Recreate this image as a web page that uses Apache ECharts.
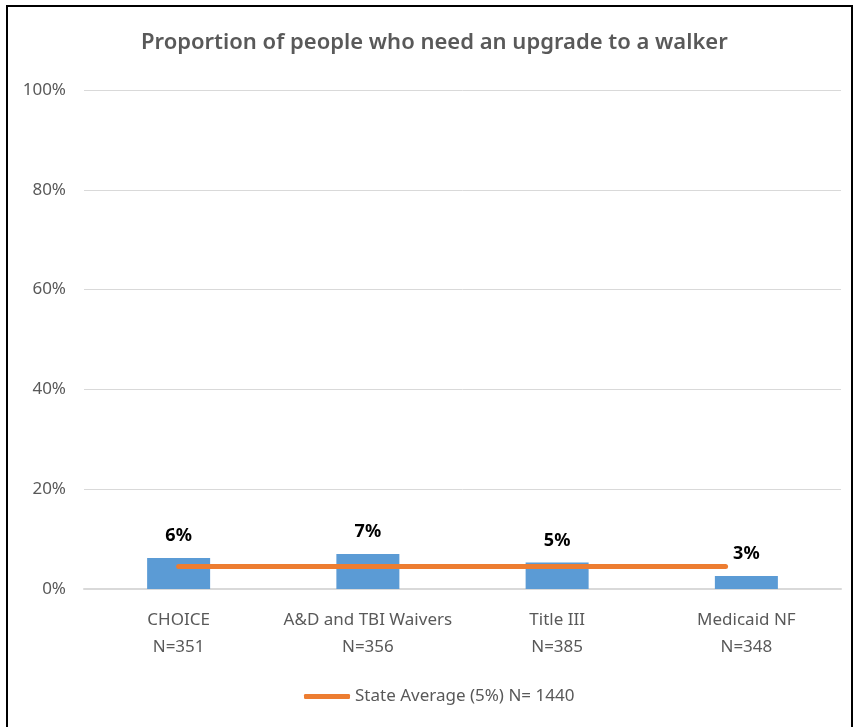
<!DOCTYPE html>
<html>
<head>
<meta charset="utf-8">
<script src="https://cdn.jsdelivr.net/npm/echarts@6/dist/echarts.min.js"></script>
<style>
	html, body { margin: 0; padding: 0; background: #fff; }
	#main { width: 854px; height: 727px; }
</style>
</head>
<body>
<div id="main"></div>
<script>
// 各项目需要升级助行器的比例
var categories = ['CHOICE\nN=351', 'A&D and TBI Waivers\nN=356', 'Title III\nN=385', 'Medicaid NF\nN=348'];
var barValues = [6.2, 7.0, 5.3, 2.6];
var avgName = 'State Average (5%) N= 1440';
var avgValue = 4.5;
var avgFrom = 0.5;   // 线段起点(类目单位)
var avgTo = 3.39;    // 线段终点(类目单位)
var yTicks = [0, 20, 40, 60, 80, 100];

var font = 'Noto Sans';
var chart = echarts.init(document.getElementById('main'));
var option = {
	backgroundColor: '#fff',
	animation: false,
	title: {
		text: 'Proportion of people who need an upgrade to a walker',
		left: 136,
		top: 27,
		textStyle: {
			color: '#595959',
			fontSize: 22,
			fontWeight: 600,
			fontFamily: font
		}
	},
	graphic: [{
		type: 'rect',
		shape: { x: 7, y: 6, width: 845, height: 740 },
		style: { fill: 'none', stroke: '#000', lineWidth: 2 },
		silent: true
	}],
	legend: {
		left: 299,
		top: 683,
		icon: 'roundRect',
		itemWidth: 46,
		itemHeight: 5,
		itemGap: 4,
		textStyle: { color: '#595959', fontSize: 17, fontFamily: font },
		data: [avgName]
	},
	grid: { left: 84, right: 13, top: 90, bottom: 138 },
	xAxis: [{
		type: 'category',
		data: categories,
		axisLine: { lineStyle: { color: '#d9d9d9', width: 2 } },
		axisTick: { show: false },
		axisLabel: {
			color: '#595959',
			fontSize: 17,
			fontFamily: font,
			lineHeight: 27,
			margin: 18,
			interval: 0
		}
	}, {
		type: 'value',
		min: 0,
		max: categories.length,
		show: false
	}],
	yAxis: {
		type: 'value',
		min: yTicks[0],
		max: yTicks[yTicks.length - 1],
		interval: 20,
		axisLine: { show: false },
		axisTick: { show: false },
		splitLine: { lineStyle: { color: '#d9d9d9', width: 1 } },
		axisLabel: {
			color: '#595959',
			fontSize: 17,
			fontFamily: font,
			margin: 18,
			formatter: '{value}%'
		}
	},
	series: [{
		name: 'Proportion',
		type: 'bar',
		barWidth: 63,
		itemStyle: { color: '#5b9bd5' },
		label: {
			show: true,
			position: 'top',
			distance: 13,
			color: '#000',
			fontSize: 18,
			fontWeight: 'bold',
			fontFamily: font,
			formatter: function (p) {
				return Math.round(p.value) + '%';
			}
		},
		z: 2,
		data: barValues
	}, {
		name: avgName,
		type: 'line',
		xAxisIndex: 1,
		symbol: 'none',
		itemStyle: { color: '#ed7d31' },
		lineStyle: { color: '#ed7d31', width: 5, cap: 'round' },
		z: 3,
		data: [[avgFrom, avgValue], [avgTo, avgValue]]
	}]
};
chart.setOption(option);
</script>
</body>
</html>
